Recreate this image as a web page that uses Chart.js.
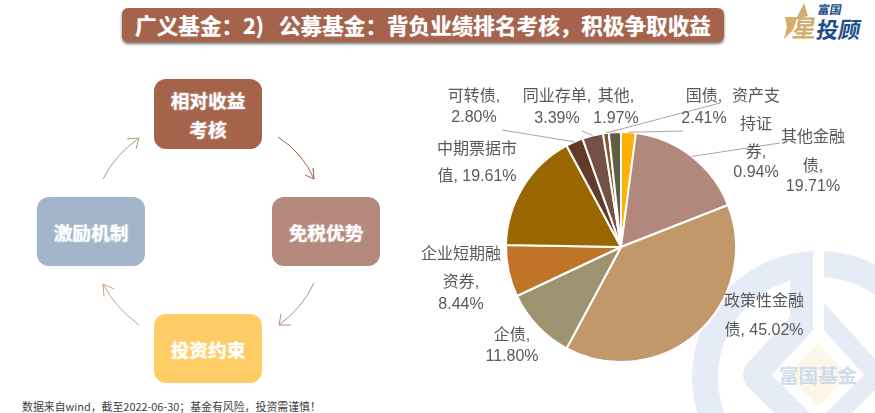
<!DOCTYPE html>
<html>
<head>
<meta charset="utf-8">
<script src="https://cdn.jsdelivr.net/npm/chart.js@4"></script>
<style>
    html, body { margin: 0; padding: 0; background: #fff; overflow: hidden; }
    body { position: relative; width: 875px; height: 413px; font-family: "Liberation Sans", "Noto Sans CJK SC", sans-serif; }
    .layer { position: absolute; left: 0; top: 0; }
    .banner {
        position: absolute; left: 122px; top: 8px; width: 602px; height: 34px;
        background: #A5634C; border-radius: 6px; box-shadow: 0 2px 3px rgba(0, 0, 0, 0.55);
        color: #fff; font: bold 21.6px/34px "Noto Sans CJK SC", sans-serif; text-align: center; white-space: nowrap;
        text-shadow: 0 0 1px rgba(255, 255, 255, 0.8);
    }
    .box {
        position: absolute; width: 108px; border-radius: 12px; color: #fff; display: flex; align-items: center; justify-content: center;
        text-align: center; font: bold 18.7px/29px "Noto Sans CJK SC", sans-serif; text-shadow: 0 0 2px rgba(255, 255, 255, 0.7);
    }
    .source { position: absolute; left: 22px; top: 398px; font: 10.9px/16px "Noto Sans CJK SC", sans-serif; color: #404040; white-space: nowrap; }
    .logo { position: absolute; font-family: "Noto Sans CJK SC", sans-serif; font-weight: bold; white-space: nowrap; transform: skewX(-10deg); }
</style>
</head>
<body>
<svg class="layer" width="875" height="413">
    <circle cx="818" cy="377" r="113" fill="none" stroke="#E6ECF6" stroke-width="26"/>
    <!-- 水印内部的菱形带 -->
    <path d="M790 272 L790 317 L746 365 Q740 375 746 385 L793 432 L829 432 L772 375 L813 330 L813 250 Z" fill="#E6ECF6"/>
    <path d="M824 303 L890 375 L833 432 L807 432 L864 375 L824 330 Z" fill="#E6ECF6"/>
    <rect x="813" y="245" width="11" height="58" fill="#fff"/>
    <path d="M818 344 L849 375 L818 406 L787 375 Z" fill="#FDF6E8"/>
    <text x="818" y="383" text-anchor="middle" font-family="Noto Sans CJK SC" font-weight="bold" font-size="19.5" fill="#CFDCEC">富国基金</text>
    <!-- 循环箭头 -->
    <g fill="none" stroke-width="1">
        <path d="M278 137 Q303 153 314 179 M305 175 L314 179 L313 168" stroke="#A5634C"/>
        <path d="M314 283 Q303 307 279 325 M281 314 L279 325 L291 325" stroke="#B68C7E"/>
        <path d="M139 325 Q115 307 103 284 M114 289 L103 284 L104 296" stroke="#C9A27E"/>
        <path d="M103 179 Q115 155 139 138 M127 139 L139 138 L136 149" stroke="#A89E80"/>
    </g>
    <path d="M804 3 L808 16 L797 19 L793 30 L784 39 L787 27 L785 17 L797 17 Z" fill="#D3AE6E"/>
</svg>

<div class="banner">广义基金：<span style="margin-right:15px;">2)</span>公募基金：背负业绩排名考核，积极争取收益</div>

<div class="logo" style="left:793px;top:12px;font-size:24px;line-height:30px;color:#D3AE6E;">星</div>
<div class="logo" style="left:817px;top:14px;font-size:22px;line-height:28px;color:#1F4E8C;">投顾</div>
<div class="logo" style="left:818px;top:2px;font-size:12px;line-height:14px;color:#1F4E8C;">富国</div>

<div class="box" style="left:154px;top:79px;height:70px;background:#A5634C;">相对收益<br>考核</div>
<div class="box" style="left:272px;top:197px;height:69px;background:#B5897B;">免税优势</div>
<div class="box" style="left:154px;top:314px;height:69px;background:#FFCD66;">投资约束</div>
<div class="box" style="left:37px;top:197px;height:69px;background:#A2B5CB;">激励机制</div>

<div class="source">数据来自wind，截至2022-06-30；基金有风险，投资需谨慎！</div>

<canvas id="assetPie" class="layer" width="875" height="413"></canvas>

<script>
const categories = ['国债', '其他金融债', '政策性金融债', '企债', '企业短期融资券', '中期票据市值', '可转债', '同业存单', '资产支持证券', '其他'];
const weights = [2.41, 19.71, 45.02, 11.80, 8.44, 19.61, 2.80, 3.39, 0.94, 1.97];
const sliceColors = ['#FFB000', '#B2887C', '#C1986A', '#9E9370', '#BF7428', '#996600', '#633A2A', '#745145', '#7F5A2A', '#635C45'];

// label text wrapped the way the original wraps it
const labelRows = [
    ['国债,', '2.41%'],
    ['其他金融', '债,', '19.71%'],
    ['政策性金融', '债, 45.02%'],
    ['企债,', '11.80%'],
    ['企业短期融', '资券,', '8.44%'],
    ['中期票据市', '值, 19.61%'],
    ['可转债,', '2.80%'],
    ['同业存单,', '3.39%'],
    ['资产支', '持证', '券,', '0.94%'],
    ['其他,', '1.97%']
];
const labelX = [704, 813, 764, 512, 461, 477, 474, 557, 756, 616];
const labelY = [[97, 119], [138, 167, 187], [302, 331], [336, 357], [255, 283, 305], [150, 177], [97, 118], [97, 119], [97, 125, 153, 173], [97, 119]];
// where the leader line leaves the label, null = no line
const leaderEnds = [[683, 131], [780, 143], null, null, null, null, [502, 130], [582, 131], [720, 103], [613, 131]];

const pieLabels = {
    id: 'pieLabels',
    afterDatasetsDraw(chart) {
        const ctx = chart.ctx;
        const arcs = chart.getDatasetMeta(0).data;
        ctx.save();
        ctx.strokeStyle = '#A6A6A6';
        ctx.lineWidth = 1;
        arcs.forEach((arc, i) => {
            if (!leaderEnds[i]) return;
            const mid = (arc.startAngle + arc.endAngle) / 2;
            ctx.beginPath();
            ctx.moveTo(arc.x + Math.cos(mid) * arc.outerRadius, arc.y + Math.sin(mid) * arc.outerRadius);
            ctx.lineTo(leaderEnds[i][0], leaderEnds[i][1]);
            ctx.stroke();
        });
        ctx.fillStyle = '#595959';
        ctx.font = '16px "Liberation Sans", "Noto Sans CJK SC", sans-serif';
        ctx.textAlign = 'center';
        ctx.textBaseline = 'middle';
        labelRows.forEach((rows, i) => {
            rows.forEach((row, r) => ctx.fillText(row, labelX[i], labelY[i][r]));
        });
        ctx.restore();
    }
};

new Chart(document.getElementById('assetPie').getContext('2d'), {
    type: 'pie',
    data: {
        labels: categories,
        datasets: [{ data: weights, backgroundColor: sliceColors, borderColor: '#fff', borderWidth: 2 }]
    },
    options: {
        responsive: false,
        animation: false,
        layout: { padding: { left: 505, right: 138, top: 131, bottom: 50 } },
        plugins: { legend: { display: false }, tooltip: { enabled: false } }
    },
    plugins: [pieLabels]
});
</script>
</body>
</html>
